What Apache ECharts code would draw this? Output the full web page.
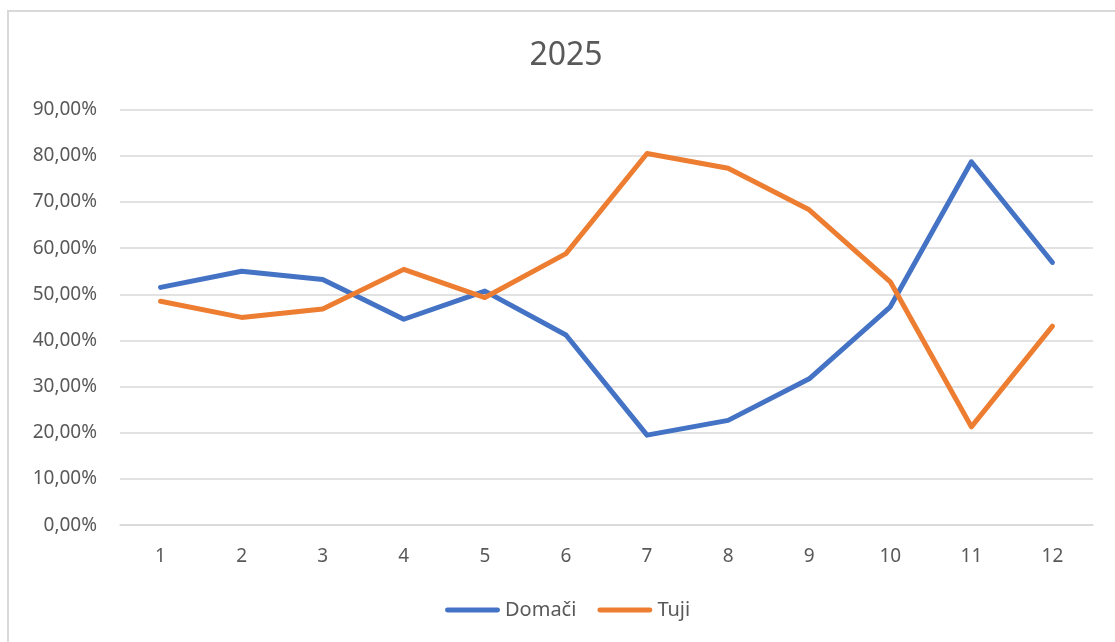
<!DOCTYPE html>
<html>
<head>
<meta charset="utf-8">
<script src="https://cdn.jsdelivr.net/npm/echarts@6/dist/echarts.min.js"></script>
<style>
  html, body { margin: 0; padding: 0; background: #fff; }
  #chart { width: 1115px; height: 642px; }
</style>
</head>
<body>
<div id="chart"></div>
<script>
const months = ['1', '2', '3', '4', '5', '6', '7', '8', '9', '10', '11', '12']
const domaci = [51.5, 55.0, 53.2, 44.6, 50.7, 41.2, 19.5, 22.7, 31.7, 47.3, 78.7, 56.9]
const tuji = [48.5, 45.0, 46.8, 55.4, 49.3, 58.8, 80.5, 77.3, 68.3, 52.7, 21.3, 43.1]

const textColor = '#595959'
const gridColor = '#d9d9d9'
const fontFamily = '"Noto Sans", sans-serif'

const chart = echarts.init(document.getElementById('chart'))
chart.setOption({
  animation: false,
  backgroundColor: '#fff',
  graphic: [{
    type: 'rect',
    shape: { x: 8, y: 11, width: 1200, height: 700 },
    style: { fill: 'none', stroke: gridColor, lineWidth: 2 },
    silent: true
  }],
  title: {
    text: '2025',
    left: 561,
    top: 35,
    textAlign: 'center',
    textStyle: {
      color: textColor,
      fontFamily: fontFamily,
      fontSize: 32,
      fontWeight: 'normal'
    }
  },
  legend: {
    bottom: 17,
    left: 440,
    itemWidth: 55,
    itemHeight: 5,
    itemGap: 21,
    icon: 'path://M2,0 L53,0 A2,2 0 0 1 53,5 L2,5 A2,2 0 0 1 2,0 Z',
    textStyle: {
      color: textColor,
      fontFamily: fontFamily,
      fontSize: 20
    },
    data: ['Domači', 'Tuji']
  },
  grid: {
    left: 120,
    right: 22,
    top: 109.6,
    bottom: 116.8,
    containLabel: false
  },
  xAxis: {
    type: 'category',
    boundaryGap: true,
    data: months,
    axisLine: { lineStyle: { color: gridColor, width: 1.5 } },
    axisTick: { show: false },
    axisLabel: {
      color: textColor,
      fontFamily: fontFamily,
      fontSize: 19,
      margin: 22
    }
  },
  yAxis: {
    type: 'value',
    min: 0,
    max: 90,
    interval: 10,
    axisLine: { show: false },
    axisTick: { show: false },
    splitLine: { lineStyle: { color: gridColor, width: 1.5 } },
    axisLabel: {
      color: textColor,
      fontFamily: fontFamily,
      fontSize: 19,
      margin: 23,
      formatter: function(v) {
        return v.toFixed(2).replace('.', ',') + '%'
      }
    }
  },
  series: [
    {
      name: 'Domači',
      type: 'line',
      data: domaci,
      symbol: 'none',
      color: '#4472C4',
      lineStyle: { width: 5, color: '#4472C4', cap: 'round', join: 'round' }
    },
    {
      name: 'Tuji',
      type: 'line',
      data: tuji,
      symbol: 'none',
      color: '#ED7D31',
      lineStyle: { width: 5, color: '#ED7D31', cap: 'round', join: 'round' }
    }
  ]
})
</script>
</body>
</html>
